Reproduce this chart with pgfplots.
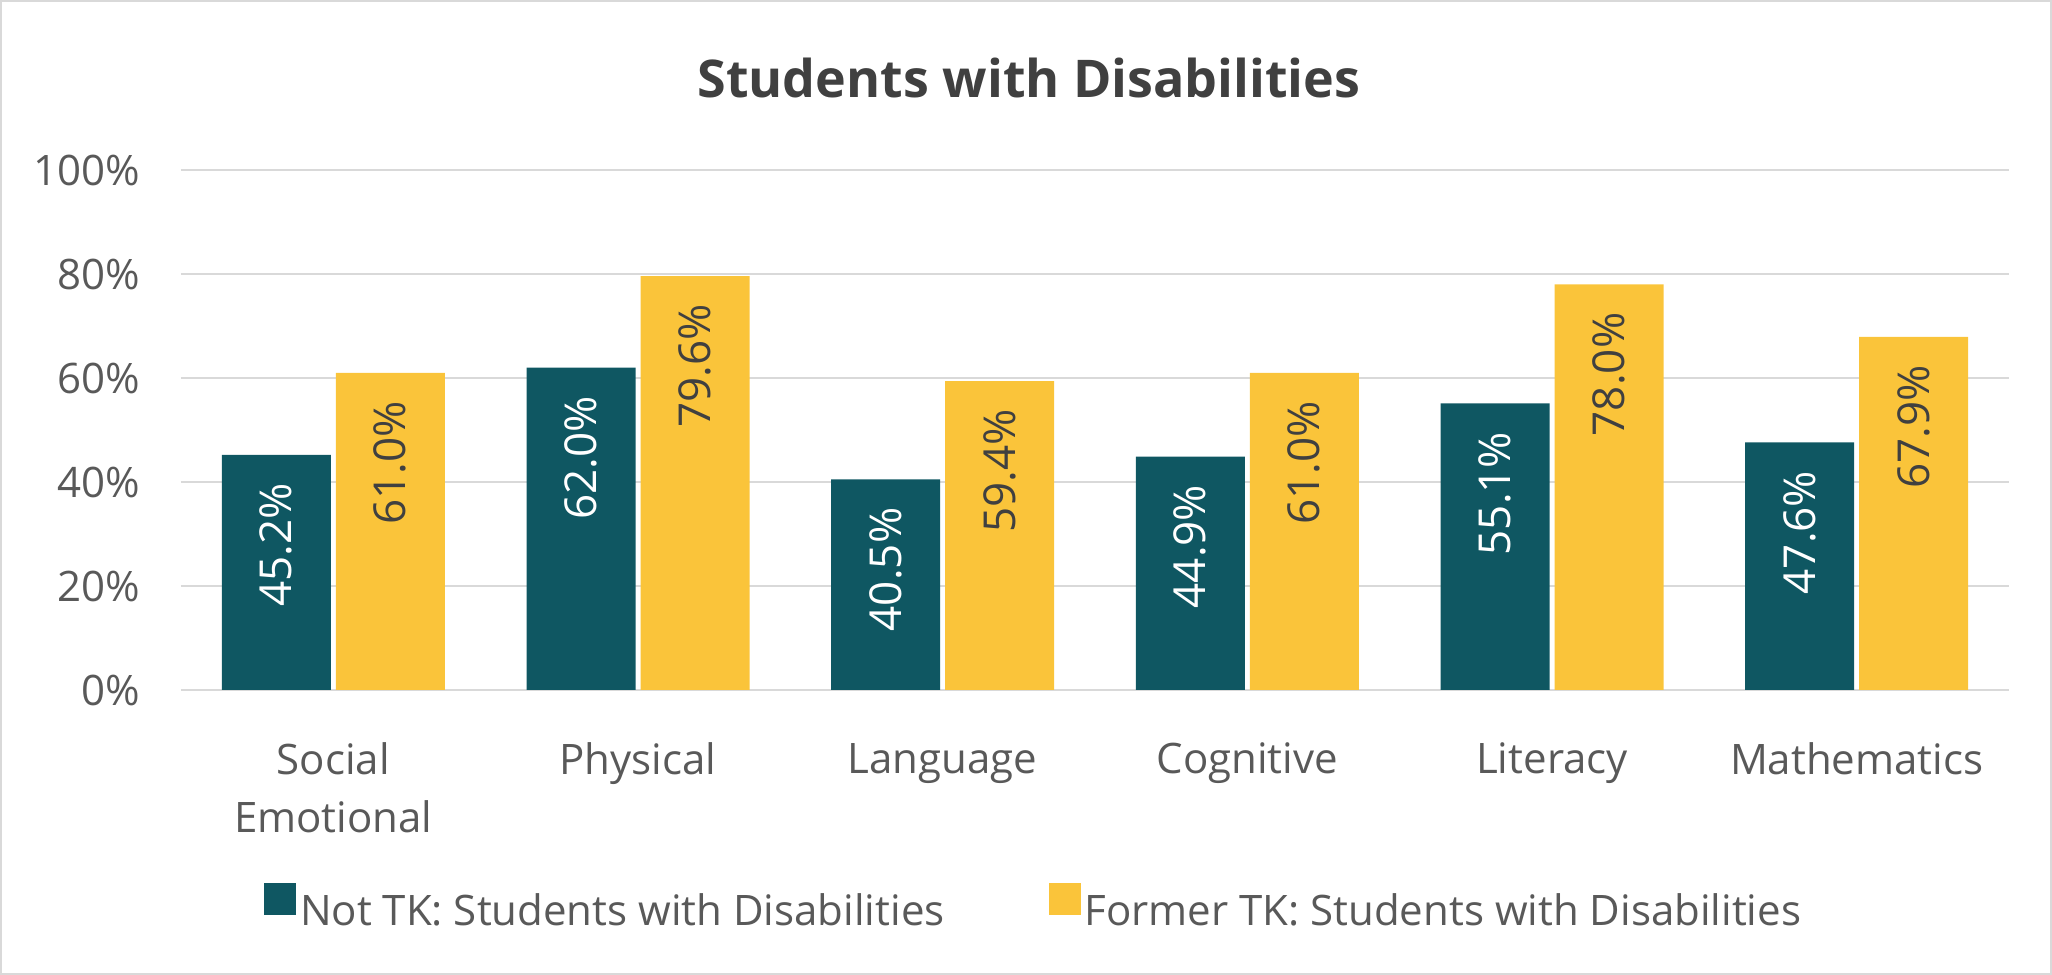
\documentclass[border=0pt]{standalone}
\usepackage{pgfplots}
\pgfplotsset{compat=1.18}
\usepackage{fontspec}
\setmainfont{Open Sans}

\definecolor{notTK}{HTML}{0F5762}
\definecolor{formerTK}{HTML}{FAC43A}
\definecolor{txt}{HTML}{595959}
\definecolor{titlec}{HTML}{404040}
\definecolor{gridc}{HTML}{D9D9D9}

\begin{document}
\begin{tikzpicture}[x=1pt,y=1pt]
\path[use as bounding box] (0,0) rectangle (1026,487.5);
\draw[gridc, line width=1.2pt] (0.6,0.6) rectangle (1025.4,486.9);
\node[anchor=base, font=\bfseries\fontsize{26}{30}\selectfont, text=titlec] at (514.5,438.5) {Students with Disabilities};
\begin{axis}[
	ybar=2.5pt,
	at={(90.5pt,142.5pt)}, anchor=south west,
	scale only axis, width=914pt, height=260pt,
	xmin=-0.5, xmax=5.5, ymin=0, ymax=100,
	xtick={0,1,2,3,4,5},
	xticklabels={{Social\\Emotional},Physical,Language,Cognitive,Literacy,Mathematics},
	xticklabel style={align=center, font=\fontsize{21}{29}\selectfont, text=txt, yshift=-23pt},
	ytick={0,20,40,60,80,100},
	yticklabel={\pgfmathprintnumber{\tick}\%},
	yticklabel style={font=\fontsize{21}{25}\selectfont, text=txt, xshift=-17pt},
	/pgf/number format/assume math mode=true,
	ymajorgrids=true,
	grid style={gridc, line width=1pt},
	axis line style={draw=none},
	major tick length=0pt,
	legend style={at={(0.467,-0.419)}, anchor=center, draw=none, legend columns=2,
		font=\fontsize{21}{25}\selectfont, text=txt,
		/tikz/every even column/.append style={column sep=50pt}},
	legend image code/.code={\fill[#1] (0pt,-2pt) rectangle (16pt,14pt);},
	bar width=54.5pt,
	point meta=y,
	nodes near coords={\rotatebox{90}{\pgfmathprintnumber[fixed,fixed zerofill,precision=1]{\pgfplotspointmeta}\%}},
	nodes near coords style={font=\fontsize{22}{26}\selectfont, anchor=north, inner sep=0pt, yshift=-14pt},
]
\addplot[fill=notTK, draw=none, nodes near coords style={text=white}]
coordinates {(0,45.2) (1,62.0) (2,40.5) (3,44.9) (4,55.1) (5,47.6)};
\addlegendentry{Not TK: Students with Disabilities}
\addplot[fill=formerTK, draw=none, nodes near coords style={text=titlec}]
coordinates {(0,61.0) (1,79.6) (2,59.4) (3,61.0) (4,78.0) (5,67.9)};
\addlegendentry{Former TK: Students with Disabilities}
\end{axis}
\end{tikzpicture}
\end{document}
